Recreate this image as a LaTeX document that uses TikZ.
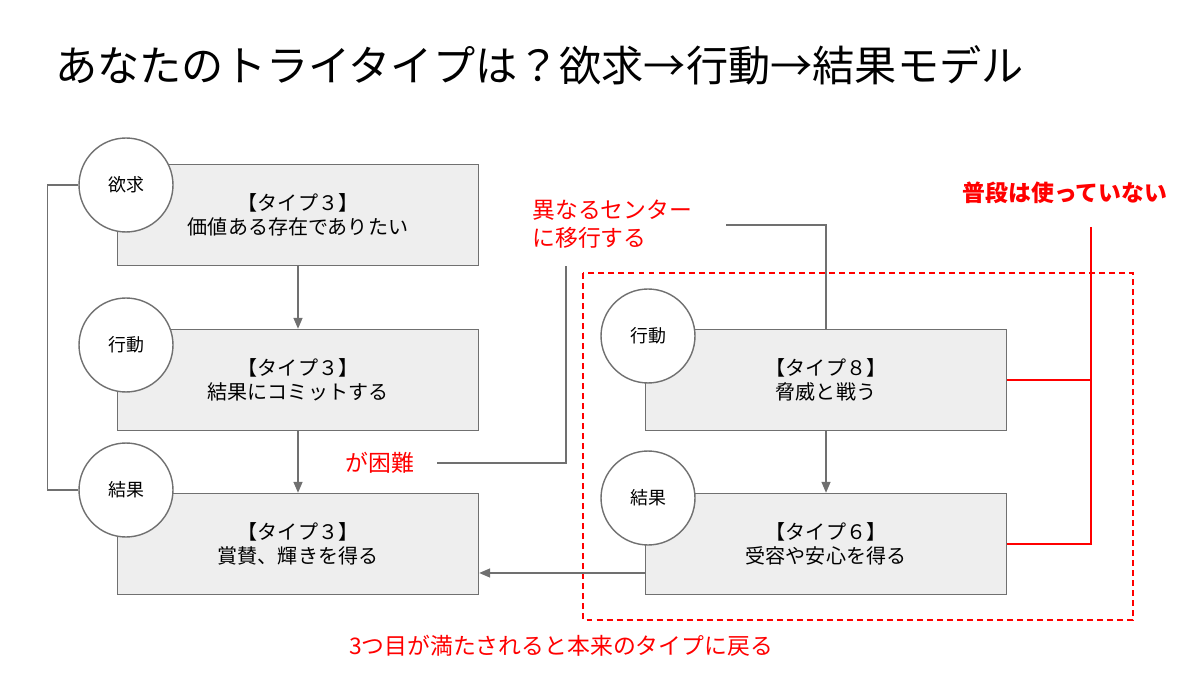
\documentclass[tikz,border=0pt]{standalone}
\usepackage{fontspec}
\setmainfont{Noto Sans CJK JP}
\usetikzlibrary{arrows.meta}
\definecolor{lgray}{RGB}{112,112,112}
\definecolor{boxgray}{RGB}{238,238,238}
\definecolor{alertred}{RGB}{255,0,0}

\begin{document}
\begin{tikzpicture}[
  x=0.02cm, y=-0.02cm,
  font=\fontsize{11.4}{13.5}\selectfont,
  >={Triangle[length=2.2mm, width=1.8mm]},
  box/.style   = {rectangle, draw=lgray, fill=boxgray, align=center,
                  minimum width=7.22cm, minimum height=2.02cm, line width=0.8pt},
  ring/.style  = {circle, draw=lgray, fill=white, minimum size=1.88cm, inner sep=0pt,
                  line width=0.8pt, font=\fontsize{10.2}{12}\selectfont},
  ln/.style    = {lgray, line width=0.8pt},
  fl/.style    = {->, lgray, line width=0.8pt},
  rl/.style    = {alertred, line width=0.8pt},
  note/.style  = {text=alertred, inner sep=0pt, font=\fontsize{13}{16}\selectfont},
  title/.style = {anchor=west, inner sep=0pt, font=\fontsize{24}{28}\selectfont}
]
\useasboundingbox (0,0) rectangle (1200,675);

% --- Titel ---------------------------------------------------------------------
\node[title] (head) at (55,65) {あなたのトライタイプは？欲求→行動→結果モデル};

% --- linke Spalte: Typ 3 -------------------------------------------------------
\node[box] (want1) at (298,215) {【タイプ３】\\価値ある存在でありたい};
\node[box] (act1)  at (298,380) {【タイプ３】\\結果にコミットする};
\node[box] (res1)  at (298,544) {【タイプ３】\\賞賛、輝きを得る};

% --- rechte Spalte: andere Zentren --------------------------------------------
\node[box] (act2)  at (826,380) {【タイプ８】\\脅威と戦う};
\node[box] (res2)  at (826,544) {【タイプ６】\\受容や安心を得る};

% --- Kreise ----------------------------------------------------------------------
\node[ring] (cWant1) at (126,185) {欲求};
\node[ring] (cAct1)  at (126,345) {行動};
\node[ring] (cRes1)  at (126,490) {結果};
\node[ring] (cAct2)  at (648,336) {行動};
\node[ring] (cRes2)  at (648,498) {結果};

% --- Hinweise ------------------------------------------------------------------
\node[note] (hard)  at (380,463) {が困難};
\node[note, anchor=west, align=left] (shift) at (532,224) {異なるセンター\\に移行する};
\node[note, font=\fontsize{13}{16}\bfseries] (unused) at (1065,193) {普段は使っていない};
\node[note] (back)  at (561,646) {3つ目が満たされると本来のタイプに戻る};

\coordinate (hardR)   at (437,463);
\coordinate (shiftB)  at (566,266);
\coordinate (shiftR)  at (726,225);
\coordinate (unusedB) at (1091,227);

% --- gestrichelter Rahmen ------------------------------------------------------
\draw[alertred, line width=0.7pt, dash pattern=on 3.4pt off 2.3pt] (583,273) rectangle (1133,620);

% --- Flüsse ----------------------------------------------------------------------
\draw[fl] (want1) -- (act1);
\draw[fl] (act1) -- (res1);
\draw[fl] (act2) -- (res2);
\draw[ln] (cRes1.west) -- ++(-31,0) |- (cWant1.west);
\draw[fl] ([yshift=-0.58cm]res2.west) -- ([yshift=-0.58cm]res1.east);
\draw[ln] (hardR) -| (shiftB);
\draw[ln] (shiftR) -| (act2.north);

% --- Klammer rechts ------------------------------------------------------------
\draw[rl] (unusedB) |- (res2.east);
\draw[rl] (act2.east) -- (act2.east -| unusedB);

\end{tikzpicture}
\end{document}
